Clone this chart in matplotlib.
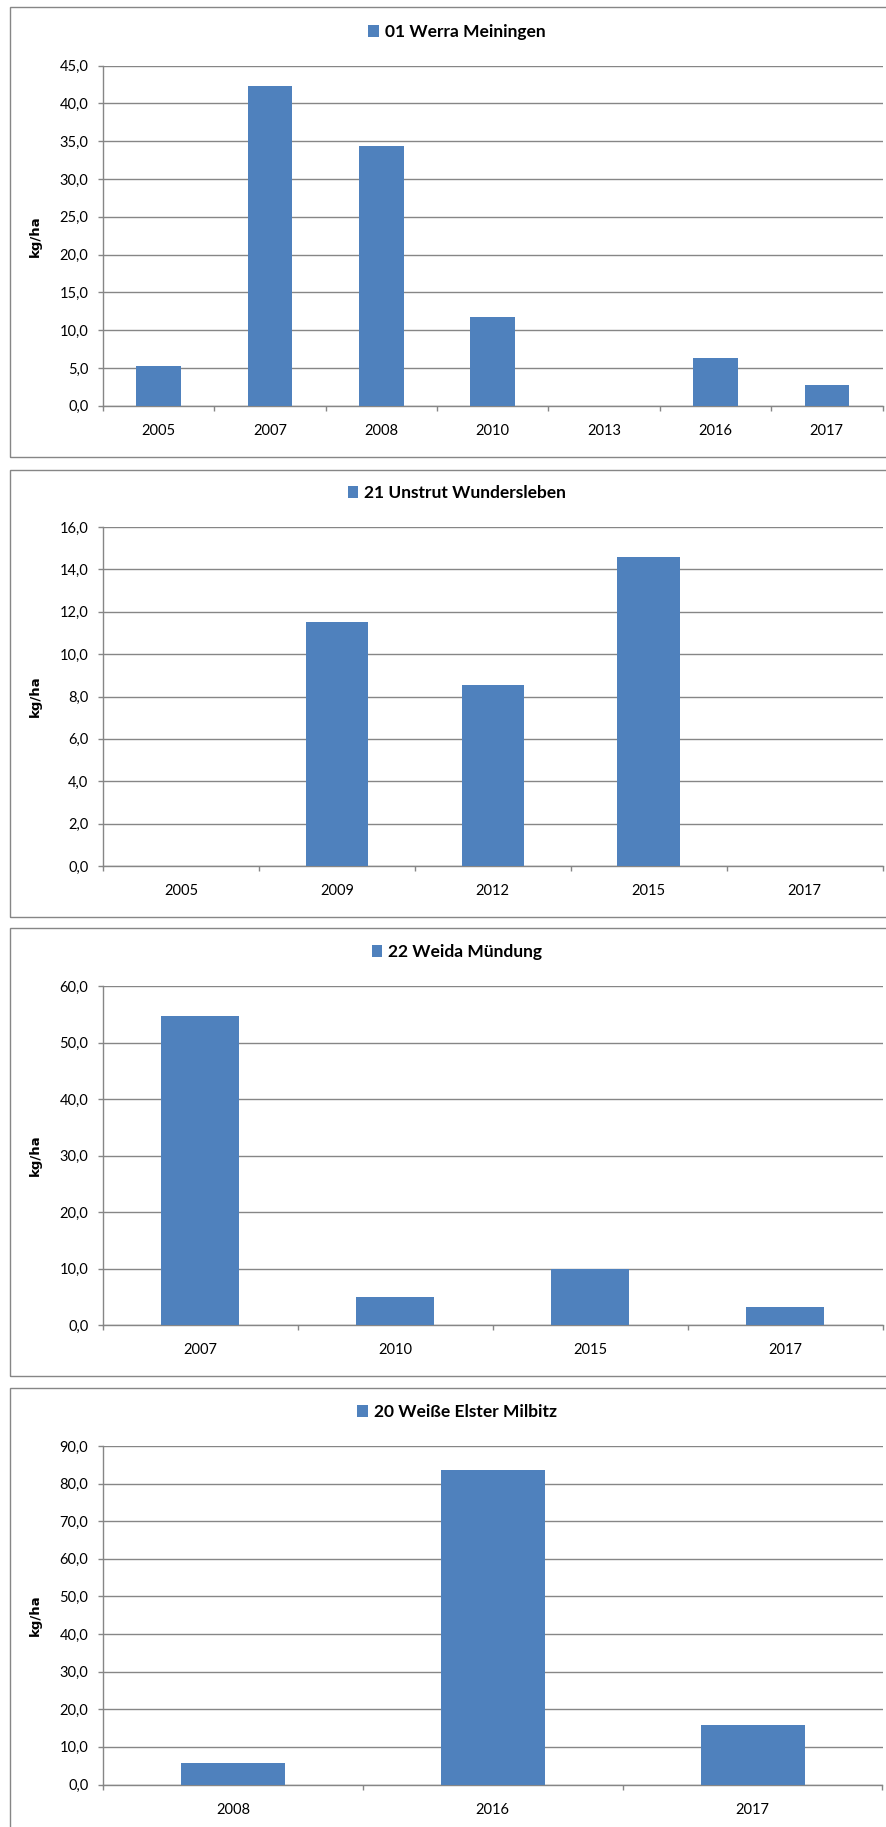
import numpy as np
import matplotlib.pyplot as plt
from matplotlib.patches import Rectangle
from matplotlib.ticker import FuncFormatter, MultipleLocator

# Werte (kg/ha)
werra_jahre = ['2005', '2007', '2008', '2010', '2013', '2016', '2017']
werra_werte = [5.2, 42.3, 34.4, 11.7, 0.0, 6.3, 2.8]

unstrut_jahre = ['2005', '2009', '2012', '2015', '2017']
unstrut_werte = [0.0, 11.5, 8.55, 14.6, 0.0]

weida_jahre = ['2007', '2010', '2015', '2017']
weida_werte = [54.7, 4.95, 10.0, 3.3]

elster_jahre = ['2008', '2016', '2017']
elster_werte = [5.75, 83.7, 15.7]

titel = ['01 Werra Meiningen', '21 Unstrut Wundersleben',
         '22 Weida Mündung', '20 Weiße Elster Milbitz']

W, H = 886, 1827
BLAU = '#4F81BD'
GRAU = '#868686'

plt.rcParams['font.family'] = ['Lato', 'DejaVu Sans']

fig = plt.figure(figsize=(W / 100, H / 100), dpi=100)


def px(x0, y_top, x1, y_bot):
    """Pixel -> Figurkoordinaten [links, unten, breite, hoehe]"""
    return [x0 / W, 1 - y_bot / H, (x1 - x0) / W, (y_bot - y_top) / H]


def diagramm(jahre, werte, name, ymax, step, rahmen, achse, leg_y):
    # Rahmen um das Diagramm
    x0, y0, y1 = rahmen
    fig.patches.append(Rectangle((x0 / W, 1 - y1 / H), (W + 20 - x0) / W, (y1 - y0) / H,
                                 transform=fig.transFigure, fill=False,
                                 edgecolor=GRAU, lw=1.0))

    ax = fig.add_axes(px(103, achse[0], 882.5, achse[1]))
    x = np.arange(len(jahre))
    bars = ax.bar(x, werte, width=0.4, color=BLAU, label=name, zorder=3)

    ax.set_xlim(-0.5, len(jahre) - 0.5)
    ax.set_ylim(0, ymax)
    ax.yaxis.set_major_locator(MultipleLocator(step))
    ax.yaxis.set_major_formatter(FuncFormatter(lambda v, p: f'{v:.1f}'.replace('.', ',')))
    ax.grid(axis='y', color=GRAU, lw=1.0, zorder=0)
    ax.set_axisbelow(True)

    ax.set_xticks(x)
    ax.set_xticklabels(jahre)
    ax.set_xticks(np.arange(len(jahre) + 1) - 0.5, minor=True)
    ax.tick_params(axis='x', which='major', length=0, pad=13, labelsize=10.5)
    ax.tick_params(axis='x', which='minor', length=3.6, color=GRAU, width=1.0)
    ax.tick_params(axis='y', length=3.6, color=GRAU, width=1.0, pad=7, labelsize=10.5)

    for s in ['top', 'right']:
        ax.spines[s].set_visible(False)
    for s in ['left', 'bottom']:
        ax.spines[s].set_color(GRAU)
        ax.spines[s].set_linewidth(1.0)

    fig.text(35.5 / W, 1 - (achse[0] + achse[1]) / 2 / H, 'kg/ha', rotation=90,
             ha='center', va='center', fontsize=9.5, fontweight='bold',
             family='DejaVu Sans')

    ax.legend(handles=[bars], loc='center', bbox_to_anchor=(457 / W, 1 - leg_y / H),
              bbox_transform=fig.transFigure, frameon=False,
              prop={'weight': 'bold', 'size': 12.5},
              handlelength=0.6, handleheight=0.7, handletextpad=0.35)
    return ax


diagramm(werra_jahre, werra_werte, titel[0], 45, 5, (10, 7.3, 457), (65.7, 405.7), 32)
diagramm(unstrut_jahre, unstrut_werte, titel[1], 16, 2, (10, 469.5, 917), (527, 866), 493.3)
diagramm(weida_jahre, weida_werte, titel[2], 60, 10, (10, 928, 1376), (986, 1325.3), 952.3)
diagramm(elster_jahre, elster_werte, titel[3], 90, 10, (10, 1388, 1900), (1446, 1784.5), 1412.3)

fig.savefig('out.png', dpi=100)
